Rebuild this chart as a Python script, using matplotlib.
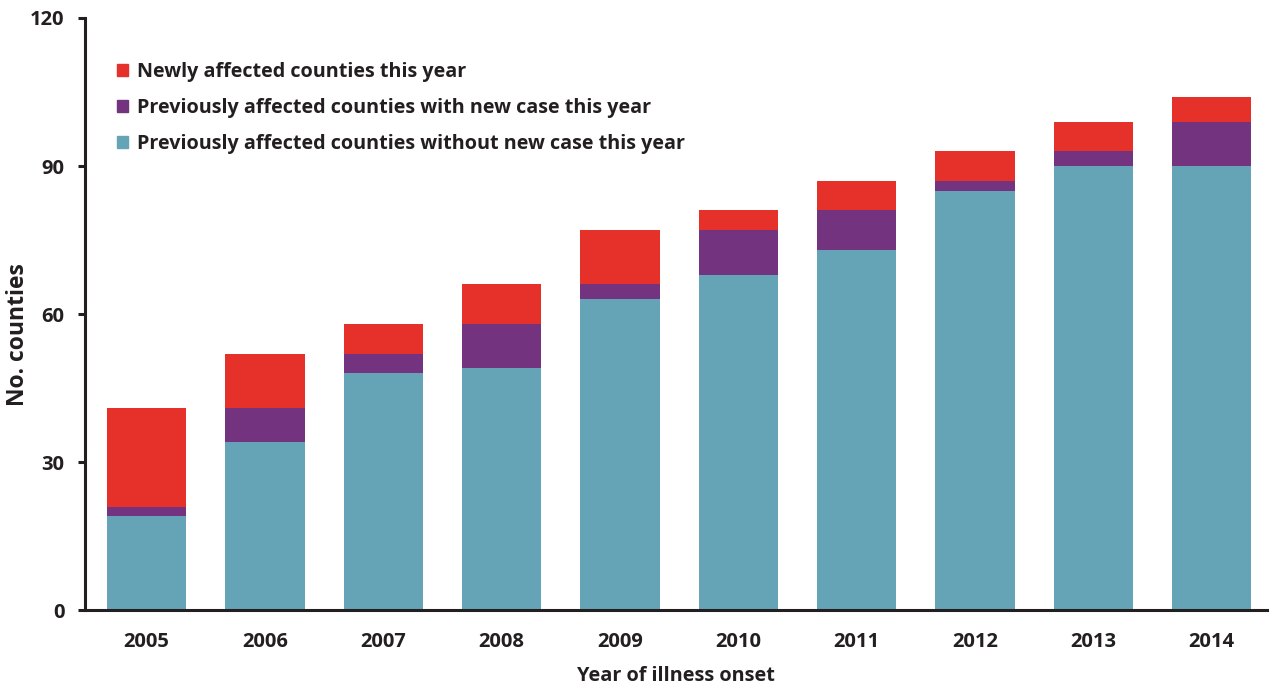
import matplotlib
matplotlib.use("Agg")
import matplotlib.pyplot as plt
from matplotlib.patches import Patch

years = ["2005", "2006", "2007", "2008", "2009", "2010", "2011", "2012", "2013", "2014"]
prev_without = [19, 34, 48, 49, 63, 68, 73, 85, 90, 90]
prev_with = [2, 7, 4, 9, 3, 9, 8, 2, 3, 9]
newly = [20, 11, 6, 8, 11, 4, 6, 6, 6, 5]

c_teal = "#64A4B6"
c_purple = "#73337F"
c_red = "#E5312A"
txt = "#231F20"

plt.rcParams['font.family'] = ['Open Sans', 'DejaVu Sans']

fig = plt.figure(figsize=(12.7, 6.91), dpi=100)
ax = fig.add_axes([0.067, 0.117, 0.931, 0.857])

x = list(range(len(years)))
w = 0.67
ax.bar(x, prev_without, width=w, color=c_teal, linewidth=0)
bottom2 = prev_without
ax.bar(x, prev_with, width=w, bottom=bottom2, color=c_purple, linewidth=0)
bottom3 = [a + b for a, b in zip(prev_without, prev_with)]
ax.bar(x, newly, width=w, bottom=bottom3, color=c_red, linewidth=0)

ax.set_xlim(-0.52, 9.47)
ax.set_ylim(0, 120)
ax.set_yticks([0, 30, 60, 90, 120])
ax.set_xticks(x)
ax.set_xticklabels(years)
for s in ["top", "right"]:
    ax.spines[s].set_visible(False)
for s in ["left", "bottom"]:
    ax.spines[s].set_linewidth(2.2)
    ax.spines[s].set_color(txt)
ax.tick_params(axis="y", direction="out", length=5, width=2.2, color=txt, pad=10)
ax.tick_params(axis="x", length=0, pad=16)
for lab in ax.get_xticklabels() + ax.get_yticklabels():
    lab.set_fontsize(14.5)
    lab.set_fontweight("bold")
    lab.set_color(txt)

ax.set_ylabel("No. counties", fontsize=16.5, fontweight="bold", color=txt)
ax.yaxis.set_label_coords(-0.047, 0.466)
ax.set_xlabel("Year of illness onset", fontsize=14.3, fontweight="bold", color=txt)
ax.xaxis.set_label_coords(0.5, -0.095)

handles = [Patch(color=c_red), Patch(color=c_purple), Patch(color=c_teal)]
labels = ["Newly affected counties this year",
          "Previously affected counties with new case this year",
          "Previously affected counties without new case this year"]
leg = ax.legend(handles, labels, loc="upper left", bbox_to_anchor=(0.012, 0.955),
                frameon=False, handlelength=0.55, handleheight=0.55, handletextpad=0.45,
                labelspacing=0.8, prop={"size": 14.2, "weight": "bold"})
for t in leg.get_texts():
    t.set_color(txt)

fig.savefig("out.png", dpi=100)
